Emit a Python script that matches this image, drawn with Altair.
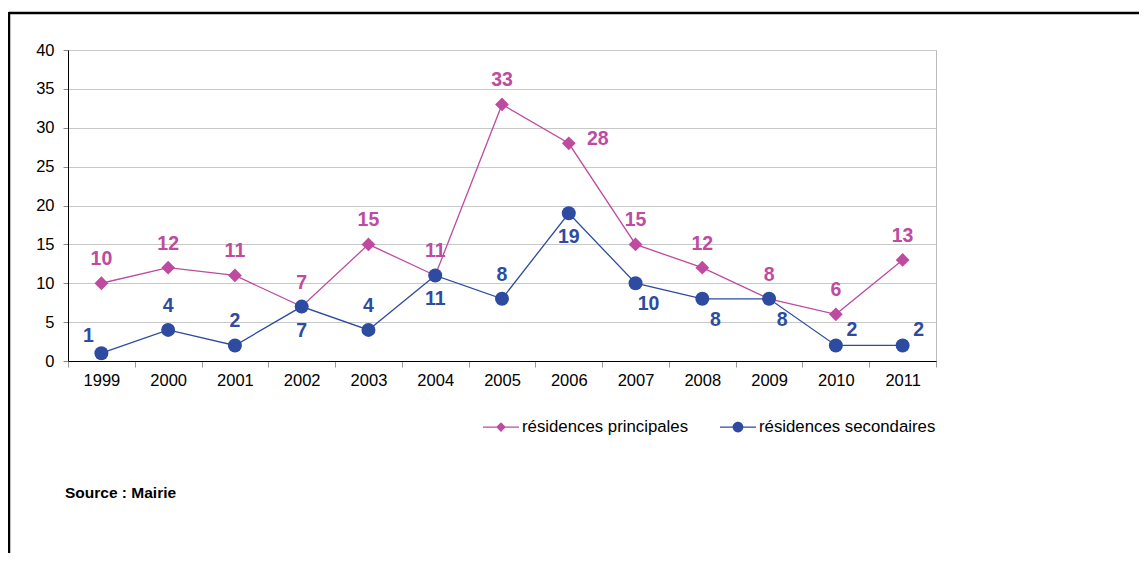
import altair as alt
import pandas as pd

# ---- data ----
years = ["1999", "2000", "2001", "2002", "2003", "2004", "2005",
         "2006", "2007", "2008", "2009", "2010", "2011"]
principales = [10, 12, 11, 7, 15, 11, 33, 28, 15, 12, 8, 6, 13]
secondaires = [1, 4, 2, 7, 4, 11, 8, 19, 10, 8, 8, 2, 2]
series_names = ["résidences principales", "résidences secondaires"]
# where each value label sits relative to its point
place_principales = ["above"] * 7 + ["right"] + ["above"] * 5
place_secondaires = ["upleft", "above", "above", "below", "above", "below", "above",
                     "below", "downright", "downright", "downright", "upright", "upright"]
y_ticks = [0, 5, 10, 15, 20, 25, 30, 35, 40]
source_text = "Source : Mairie"

# ---- styles ----
PINK = "#BE4B9F"
BLUE = "#2D4BA0"
FONT = "Liberation Sans"
offsets = {"above": (0, -24), "below": (0, 24), "right": (29, -4),
           "upleft": (-13, -17), "downright": (13, 21), "upright": (16, -15)}
legend_paths = [
    "M-1,-0.035H1V0.035H-1Z M0,-0.27L0.27,0L0,0.27L-0.27,0Z",
    "M-1,-0.035H1V0.035H-1Z M0.3,0A0.3,0.3 0 1,1 -0.3,0A0.3,0.3 0 1,1 0.3,0Z",
]

rows = []
for y, v, p in zip(years, principales, place_principales):
    rows.append({"year": y, "value": v, "series": series_names[0], "place": p})
for y, v, p in zip(years, secondaires, place_secondaires):
    rows.append({"year": y, "value": v, "series": series_names[1], "place": p})
df = pd.DataFrame(rows)

x_enc = alt.X("year:N", sort=years,
              scale=alt.Scale(paddingInner=0, paddingOuter=0),
              axis=alt.Axis(title=None, labelAngle=0, tickBand="extent",
                            domainColor="#000000", tickColor="#999999",
                            tickSize=6, labelPadding=5, grid=False))
y_enc = alt.Y("value:Q", scale=alt.Scale(domain=[0, 40], nice=False),
              axis=alt.Axis(title=None, values=y_ticks, domainColor="#000000",
                            tickColor="#888888", tickSize=5, labelPadding=9,
                            gridColor="#C8C8C8", gridWidth=1))

base = alt.Chart(df)
layers = []
for name, color, shape, size in [(series_names[0], PINK, "diamond", 190),
                                 (series_names[1], BLUE, "circle", 195)]:
    sub = base.transform_filter(alt.datum.series == name)
    layers.append(sub.mark_line(color=color, strokeWidth=1.3).encode(x=x_enc, y=y_enc))
    layers.append(sub.mark_point(shape=shape, filled=True, opacity=1, color=color,
                                 size=size).encode(x=x_enc, y=y_enc))
    for place, (dx, dy) in offsets.items():
        layers.append(
            sub.transform_filter(alt.datum.place == place)
            .mark_text(color=color, font=FONT, fontSize=19.5, fontWeight="bold",
                       dx=dx, dy=dy, align="center", baseline="middle")
            .encode(x=x_enc, y=y_enc, text="value:Q")
        )

legend = alt.Legend(title=None, orient="none", legendX=415, legendY=359,
                    direction="horizontal", symbolSize=1296, symbolOpacity=1,
                    symbolStrokeWidth=0, labelFont=FONT, labelFontSize=16.8,
                    labelColor="#000000", labelLimit=400, labelOffset=3,
                    columnPadding=31)
dummy = base.mark_point(filled=True, opacity=0).encode(
    x=x_enc, y=y_enc,
    color=alt.Color("series:N", scale=alt.Scale(domain=series_names, range=[PINK, BLUE]),
                    legend=legend),
    shape=alt.Shape("series:N", scale=alt.Scale(domain=series_names, range=legend_paths),
                    legend=legend),
)
layers.append(dummy)

one = alt.Chart(pd.DataFrame({"a": [0]}))
layers.append(one.mark_text(text=source_text, font=FONT, fontSize=15.5, fontWeight="bold",
                            align="left", baseline="middle", color="#000000")
              .encode(x=alt.value(-3), y=alt.value(443)))
layers.append(one.mark_rule(color="#000000", strokeWidth=2.5)
              .encode(x=alt.value(-59), x2=alt.value(1200), y=alt.value(-37)))
layers.append(one.mark_rule(color="#000000", strokeWidth=2.5)
              .encode(x=alt.value(-59), y=alt.value(-38), y2=alt.value(700)))

chart = alt.layer(*layers).properties(
    width=868, height=311,
    autosize=alt.AutoSizeParams(type="none"),
    padding={"left": 60, "top": 42, "right": 203, "bottom": 192},
    background="#ffffff",
).configure_view(stroke="#BBBBBB", strokeWidth=1).configure_axis(
    labelFont=FONT, labelFontSize=16.5, labelColor="#000000"
)

chart.save("out.html", embed_options={"renderer": "svg", "actions": False})
